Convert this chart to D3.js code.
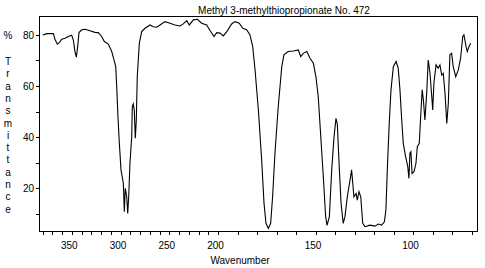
<!DOCTYPE html>
<html>
<head>
<meta charset="utf-8">
<script src="https://cdn.jsdelivr.net/npm/d3@7"></script>
<style>
  html, body { margin: 0; padding: 0; background: #fff; }
  svg { display: block; }
  text { font-family: "Liberation Sans", Arial, sans-serif; font-size: 10px; fill: #000; }
</style>
</head>
<body>
<svg id="chart" width="485" height="268"></svg>
<script>
// ---- data ----
const title = "Methyl 3-methylthiopropionate No. 472";
const xLabel = "Wavenumber";
const yLabelLetters = ["T","r","a","n","s","m","i","t","t","a","n","c","e"];
const xTickLabels = [350, 300, 250, 200, 150, 100];
const yTickLabels = [20, 40, 60, 80];

const wavenumber = [379.8, 375.4, 368.9, 367.2, 364.8, 362.8, 360.3, 356.9, 353.5, 350.1, 348.4, 346.7, 345.3, 343.9, 342.6, 339.8, 336.4, 331.3, 326.2, 322.8, 319.3, 316.6, 312.5, 309.0, 306.7, 304.9, 303.9, 302.6, 301.2, 299.5, 297.1, 296.1, 295.1, 293.6, 292.6, 291.6, 290.3, 288.5, 287.9, 286.9, 285.9, 284.8, 283.8, 282.8, 280.7, 278.3, 274.9, 269.7, 266.4, 262.9, 259.5, 254.4, 249.2, 244.1, 239.0, 235.6, 232.1, 229.4, 225.3, 221.2, 216.7, 211.6, 208.2, 204.1, 201.3, 199.0, 197.3, 195.5, 193.0, 191.3, 189.1, 187.3, 185.3, 183.6, 182.2, 181.0, 179.3, 177.6, 176.4, 175.4, 174.2, 173.0, 172.0, 170.8, 169.1, 167.3, 166.2, 164.0, 161.4, 158.8, 157.6, 156.3, 154.5, 152.8, 151.1, 149.8, 148.6, 147.3, 146.0, 144.8, 144.1, 142.9, 141.7, 140.5, 139.5, 138.8, 138.0, 136.9, 135.8, 134.9, 133.7, 132.3, 131.5, 130.9, 130.3, 129.2, 128.6, 127.7, 126.8, 126.3, 125.8, 124.6, 122.1, 119.5, 117.8, 116.1, 114.7, 113.9, 113.2, 112.2, 111.3, 110.1, 108.7, 107.6, 106.7, 105.8, 105.0, 103.8, 102.7, 102.1, 101.6, 101.1, 100.5, 99.5, 98.5, 97.8, 96.8, 95.9, 95.3, 94.7, 93.9, 93.0, 92.2, 91.3, 90.4, 89.9, 89.3, 88.2, 87.1, 86.2, 85.3, 84.5, 83.6, 82.7, 81.9, 81.1, 80.2, 79.4, 78.1, 76.8, 75.6, 74.5, 73.9, 72.8, 72.2, 71.3, 70.4];

const transmittance = [80.0, 80.5, 80.5, 78.3, 76.4, 77.0, 78.3, 78.7, 79.4, 79.9, 78.0, 73.5, 71.3, 75.4, 80.9, 82.0, 82.2, 81.6, 81.0, 80.9, 79.4, 77.4, 76.4, 73.5, 70.2, 67.6, 59.8, 48.0, 37.6, 27.2, 22.0, 10.8, 20.0, 16.7, 10.2, 16.7, 29.8, 40.2, 52.0, 53.0, 50.6, 39.6, 46.7, 63.7, 76.7, 81.3, 82.6, 83.9, 83.2, 83.0, 83.9, 85.2, 84.6, 83.9, 83.5, 84.3, 85.6, 83.9, 85.9, 86.1, 84.6, 83.9, 81.7, 79.4, 80.9, 80.7, 79.6, 81.3, 84.3, 85.2, 84.6, 82.6, 82.0, 80.0, 75.4, 66.3, 50.6, 31.0, 14.1, 6.3, 4.3, 6.3, 16.7, 33.7, 52.0, 67.6, 72.2, 73.5, 73.7, 74.1, 71.5, 72.8, 73.5, 70.9, 68.9, 63.7, 55.9, 40.2, 24.5, 8.9, 5.5, 8.9, 27.2, 40.2, 47.4, 45.0, 31.0, 14.1, 6.3, 8.9, 16.7, 23.2, 27.2, 22.0, 16.7, 18.0, 15.4, 18.7, 16.7, 11.5, 6.3, 5.0, 5.6, 5.2, 6.0, 5.6, 6.9, 11.5, 27.2, 45.4, 58.5, 67.6, 69.6, 67.0, 58.5, 46.7, 37.6, 32.4, 28.5, 23.9, 33.7, 34.3, 25.8, 26.5, 29.8, 36.3, 37.6, 50.6, 58.5, 54.6, 46.7, 57.2, 70.2, 65.0, 55.9, 50.6, 61.1, 68.3, 67.0, 68.3, 64.3, 65.0, 57.2, 45.4, 53.3, 72.2, 72.8, 67.6, 63.7, 66.3, 70.9, 79.4, 80.0, 75.4, 73.5, 75.4, 76.7];

// ---- layout ----
const plotLeft = 39, plotRight = 477, plotTop = 16, plotBottom = 231;

// piecewise wavenumber scale (scale change at 200)
const x = d3.scaleLinear().domain([383.6, 200, 67.2]).range([plotLeft, 218, plotRight]);
const y = d3.scaleLinear().domain([3.3, 87.4]).range([plotBottom, plotTop]);

const svg = d3.select("#chart");

// title
svg.append("text").attr("x", 284).attr("y", 14).attr("text-anchor", "middle").text(title);

// x axis
const xTicks = d3.range(70, 381, 10);
const xAxis = d3.axisBottom(x)
  .tickValues(xTicks)
  .tickSize(4)
  .tickPadding(7)
  .tickFormat(d => xTickLabels.includes(d) ? String(d) : "");
const gx = svg.append("g").attr("transform", `translate(0,${plotBottom})`).call(xAxis);
gx.select(".domain").remove();
gx.selectAll("line").attr("stroke", "#000").attr("shape-rendering", "crispEdges");
gx.selectAll("text").attr("dx", -3).attr("font-size", "10px").attr("font-family", '"Liberation Sans", Arial, sans-serif').attr("fill", "#000");

// y axis
const yTicks = d3.range(10, 81, 10);
const yAxis = d3.axisLeft(y)
  .tickValues(yTicks)
  .tickSize(3)
  .tickPadding(2)
  .tickFormat(d => yTickLabels.includes(d) ? String(d) : "");
const gy = svg.append("g").attr("transform", `translate(${plotLeft},0)`).call(yAxis);
gy.select(".domain").remove();
gy.selectAll("line").attr("stroke", "#000").attr("shape-rendering", "crispEdges");
gy.selectAll("text").attr("font-size", "10px").attr("font-family", '"Liberation Sans", Arial, sans-serif').attr("fill", "#000");

// frame
svg.append("rect")
  .attr("x", plotLeft + 0.5).attr("y", plotTop + 0.5)
  .attr("width", plotRight - plotLeft).attr("height", plotBottom - plotTop)
  .attr("fill", "none").attr("stroke", "#000").attr("stroke-width", 1);

// spectrum
const n = Math.min(wavenumber.length, transmittance.length);
const pts = d3.range(n).map(i => [wavenumber[i], transmittance[i]]);
const line = d3.line().x(d => x(d[0])).y(d => y(d[1]));
svg.append("path").datum(pts)
  .attr("d", line)
  .attr("fill", "none").attr("stroke", "#000").attr("stroke-width", 1.1)
  .attr("stroke-linejoin", "miter");

// y label: % then vertical letters
svg.append("text").attr("x", 8).attr("y", 38.5).attr("text-anchor", "middle").text("%");
svg.append("g").selectAll("text").data(yLabelLetters).join("text")
  .attr("x", 8)
  .attr("y", (d, i) => 65 + i * 12.3)
  .attr("text-anchor", "middle")
  .text(d => d);

// x label
svg.append("text").attr("x", 240).attr("y", 264).attr("text-anchor", "middle").text(xLabel);
</script>
</body>
</html>
